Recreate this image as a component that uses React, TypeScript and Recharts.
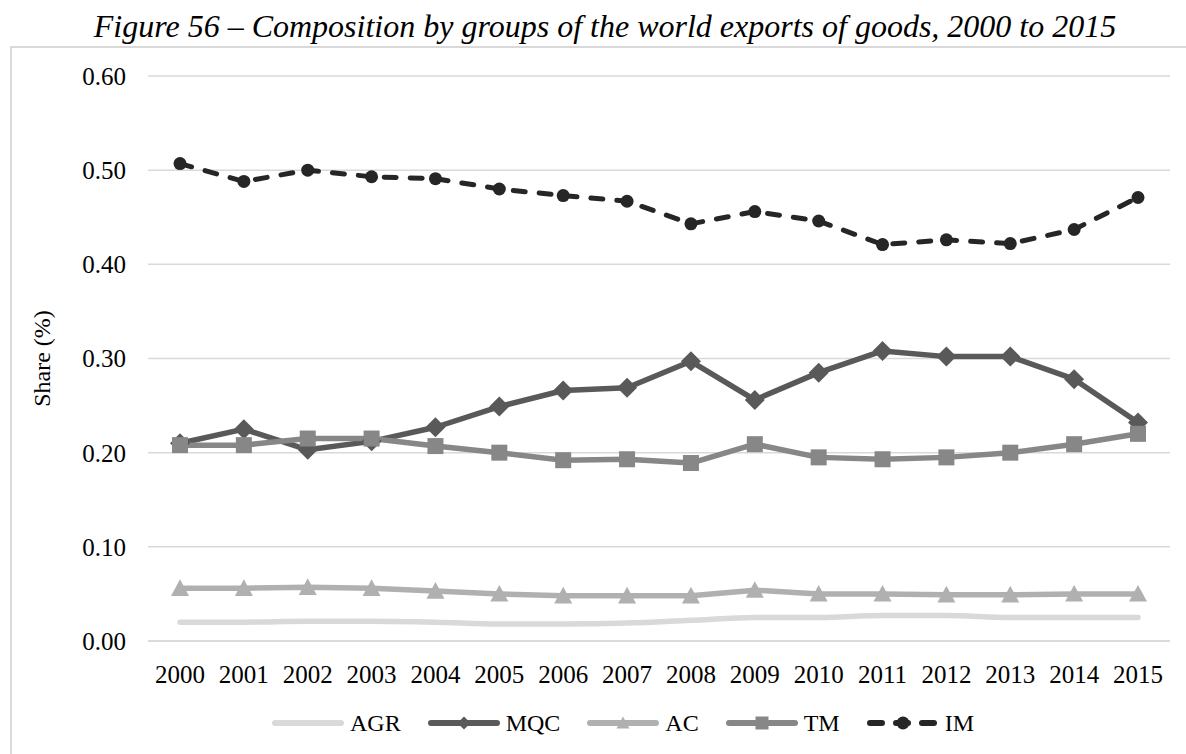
import React from "react";
import {
  LineChart,
  Line,
  XAxis,
  YAxis,
  CartesianGrid,
  Legend,
  Label,
} from "recharts";

const years = [
  "2000", "2001", "2002", "2003", "2004", "2005", "2006", "2007",
  "2008", "2009", "2010", "2011", "2012", "2013", "2014", "2015",
];

// export shares by product group
const agr = [0.020, 0.020, 0.021, 0.021, 0.020, 0.018, 0.018, 0.019, 0.022, 0.025, 0.025, 0.027, 0.027, 0.025, 0.025, 0.025];
const mqc = [0.210, 0.225, 0.203, 0.212, 0.227, 0.249, 0.266, 0.269, 0.297, 0.256, 0.285, 0.308, 0.302, 0.302, 0.278, 0.232];
const ac = [0.056, 0.056, 0.057, 0.056, 0.053, 0.050, 0.048, 0.048, 0.048, 0.054, 0.050, 0.050, 0.049, 0.049, 0.050, 0.050];
const tm = [0.208, 0.208, 0.215, 0.215, 0.207, 0.200, 0.192, 0.193, 0.189, 0.209, 0.195, 0.193, 0.195, 0.200, 0.209, 0.220];
const im = [0.507, 0.488, 0.500, 0.493, 0.491, 0.480, 0.473, 0.467, 0.443, 0.456, 0.446, 0.421, 0.426, 0.422, 0.437, 0.471];

const yTicks = [0, 0.1, 0.2, 0.3, 0.4, 0.5, 0.6];

const data = years.map((year, i) => ({
  year,
  AGR: agr[i],
  MQC: mqc[i],
  AC: ac[i],
  TM: tm[i],
  IM: im[i],
}));

type Shape = "none" | "diamond" | "triangle" | "square" | "circle";

const series: {
  key: string;
  color: string;
  shape: Shape;
  size: number;
  width: number;
  dash?: string;
  smooth?: boolean;
}[] = [
  { key: "AGR", color: "#d9d9d9", shape: "none", size: 0, width: 5.5, smooth: true },
  { key: "MQC", color: "#595959", shape: "diamond", size: 20, width: 5.5 },
  { key: "AC", color: "#b0b0b0", shape: "triangle", size: 18, width: 5.5 },
  { key: "TM", color: "#878787", shape: "square", size: 16, width: 5.5 },
  { key: "IM", color: "#262626", shape: "circle", size: 13, width: 5, dash: "12 14" },
];

const FONT = '"Liberation Serif", "Times New Roman", serif';

const Marker = ({ shape, cx, cy, size, color }: { shape: Shape; cx: number; cy: number; size: number; color: string }) => {
  const h = size / 2;
  switch (shape) {
    case "diamond":
      return <polygon points={`${cx},${cy - h} ${cx + h},${cy} ${cx},${cy + h} ${cx - h},${cy}`} fill={color} />;
    case "triangle":
      return <polygon points={`${cx},${cy - h} ${cx + h},${cy + h * 0.85} ${cx - h},${cy + h * 0.85}`} fill={color} />;
    case "square":
      return <rect x={cx - h} y={cy - h} width={size} height={size} fill={color} />;
    case "circle":
      return <circle cx={cx} cy={cy} r={h} fill={color} />;
    default:
      return null;
  }
};

const renderLegend = () => (
  <div
    style={{
      display: "flex",
      alignItems: "center",
      height: 30,
      paddingLeft: 272,
      fontFamily: FONT,
      fontSize: 24,
      color: "#000",
    }}
  >
    {series.map((s) => (
      <div key={s.key} style={{ display: "flex", alignItems: "center", marginRight: 27 }}>
        <svg width={72} height={20} style={{ marginRight: 6 }}>
          <line
            x1={3}
            y1={10}
            x2={69}
            y2={10}
            stroke={s.color}
            strokeWidth={6}
            strokeLinecap="round"
            strokeDasharray={s.dash}
          />
          <Marker shape={s.shape} cx={36} cy={10} size={13} color={s.color} />
        </svg>
        <span style={{ lineHeight: "30px", fontFamily: FONT, fontSize: 24 }}>{s.key}</span>
      </div>
    ))}
  </div>
);

const YTitle = (props: any) => {
  const { viewBox } = props;
  const cx = viewBox.x + 42;
  const cy = viewBox.y + viewBox.height / 2;
  return (
    <text
      x={cx}
      y={cy}
      transform={`rotate(-90, ${cx}, ${cy})`}
      textAnchor="middle"
      dominantBaseline="central"
      fontFamily={FONT}
      fontSize={24}
      fill="#000"
    >
      Share (%)
    </text>
  );
};

export default function App() {
  return (
    <div
      style={{
        position: "absolute",
        left: 0,
        top: 0,
        width: 1186,
        height: 754,
        overflow: "hidden",
        background: "#fff",
        fontFamily: FONT,
      }}
    >
      <div
        style={{
          position: "absolute",
          left: 0,
          top: 10,
          width: 1210,
          textAlign: "center",
          fontStyle: "italic",
          fontSize: 32,
          lineHeight: "32px",
          whiteSpace: "nowrap",
          color: "#000",
        }}
      >
        Figure 56 – Composition by groups of the world exports of goods, 2000 to 2015
      </div>
      <div style={{ position: "absolute", left: 0, top: 0 }}>
        <LineChart
          width={1186}
          height={754}
          data={data}
          margin={{ top: 76, right: 16, bottom: 16, left: 0 }}
        >
          <CartesianGrid vertical={false} stroke="#d9d9d9" strokeWidth={1.5} />
          <XAxis
            dataKey="year"
            height={67}
            padding={{ left: 32, right: 32 }}
            interval={0}
            tickLine={false}
            tickMargin={18}
            axisLine={{ stroke: "#d9d9d9", strokeWidth: 1.5 }}
            tick={{ fontSize: 25, fill: "#000", fontFamily: FONT }}
          />
          <YAxis
            width={148}
            domain={[0, 0.6]}
            ticks={yTicks}
            interval={0}
            axisLine={false}
            tickLine={false}
            tickMargin={16}
            tickFormatter={(v: number) => v.toFixed(2)}
            tick={{ fontSize: 25, fill: "#000", fontFamily: FONT }}
          >
            <Label content={YTitle} />
          </YAxis>
          <Legend verticalAlign="bottom" content={renderLegend} />
          {series.map((s) => (
            <Line
              key={s.key}
              dataKey={s.key}
              name={s.key}
              type={s.smooth ? "monotone" : "linear"}
              stroke={s.color}
              strokeWidth={s.width}
              strokeDasharray={s.dash}
              strokeLinecap="round"
              strokeLinejoin="round"
              isAnimationActive={false}
              activeDot={false}
              dot={
                s.shape === "none"
                  ? false
                  : (p: any) => (
                      <Marker
                        key={`${s.key}-${p.index}`}
                        shape={s.shape}
                        cx={p.cx}
                        cy={p.cy}
                        size={s.size}
                        color={s.color}
                      />
                    )
              }
            />
          ))}
        </LineChart>
      </div>
      {/* outer frame of the chart area */}
      <div
        style={{
          position: "absolute",
          left: 10,
          top: 46,
          width: 1200,
          height: 740,
          border: "2px solid #d9d9d9",
          pointerEvents: "none",
          zIndex: 2,
        }}
      />
    </div>
  );
}
